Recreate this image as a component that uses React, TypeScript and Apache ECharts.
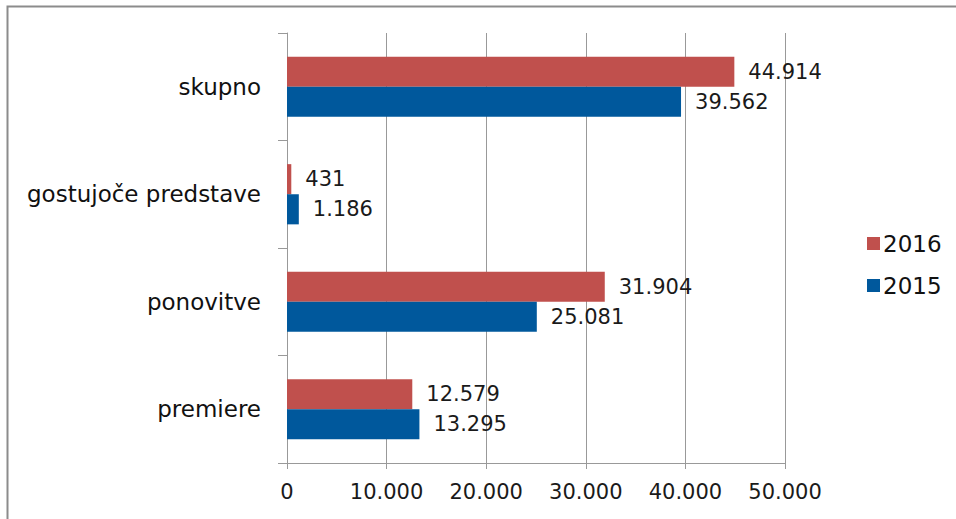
import React, { useEffect, useRef } from "react";
import * as echarts from "echarts";

const categories = ["premiere", "ponovitve", "gostujoče predstave", "skupno"];
const values2016 = [12579, 31904, 431, 44914];
const values2015 = [13295, 25081, 1186, 39562];
const seriesNames = ["2016", "2015"];
const xTicks = { min: 0, max: 50000, interval: 10000 };

const FONT = "DejaVu Sans";
const fmt = (v: number) => {
  const s = Math.round(v).toString();
  return s.replace(/\B(?=(\d{3})+(?!\d))/g, ".");
};

export default function App() {
  const ref = useRef<HTMLDivElement>(null);
  useEffect(() => {
    document.body.style.margin = "0";
    if (!ref.current) return;
    const chart = echarts.init(ref.current, undefined, { renderer: "svg" });
    const labelStyle = {
      show: true,
      position: "right" as const,
      distance: 14,
      fontFamily: FONT,
      fontSize: 21,
      color: "#1a1a1a",
      formatter: (p: any) => fmt(p.value),
    };
    chart.setOption({
      animation: false,
      backgroundColor: "#ffffff",
      textStyle: { fontFamily: FONT },
      grid: { left: 287, right: 171, top: 33, bottom: 56, containLabel: false },
      legend: {
        orient: "vertical",
        left: 862,
        top: 227,
        itemWidth: 13,
        itemHeight: 13,
        itemGap: 19,
        icon: "rect",
        data: seriesNames,
        textStyle: { fontFamily: FONT, fontSize: 23, color: "#111111", padding: [0, 0, 0, -2] },
      },
      xAxis: {
        type: "value",
        min: xTicks.min,
        max: xTicks.max,
        interval: xTicks.interval,
        axisLine: { show: true, lineStyle: { color: "#999999", width: 1 } },
        axisTick: { show: true, length: 6, lineStyle: { color: "#999999" } },
        splitLine: { show: true, lineStyle: { color: "#999999", width: 1 } },
        axisLabel: {
          fontFamily: FONT,
          fontSize: 21,
          color: "#1a1a1a",
          margin: 18,
          formatter: (v: number) => fmt(v),
        },
      },
      yAxis: {
        type: "category",
        data: categories,
        axisLine: { show: true, lineStyle: { color: "#999999", width: 1 } },
        axisTick: { show: true, length: 9, lineStyle: { color: "#999999" } },
        axisLabel: {
          fontFamily: FONT,
          fontSize: 23,
          color: "#111111",
          margin: 26,
        },
      },
      series: [
        {
          name: seriesNames[0],
          type: "bar",
          data: values2016,
          itemStyle: { color: "#C0504D" },
          barGap: "0%",
          barCategoryGap: "44%",
          label: labelStyle,
        },
        {
          name: seriesNames[1],
          type: "bar",
          data: values2015,
          itemStyle: { color: "#00589C" },
          barGap: "0%",
          barCategoryGap: "44%",
          label: labelStyle,
        },
      ],
      graphic: [
        {
          type: "polyline",
          shape: { points: [[7.5, 519], [7.5, 6.5], [956, 6.5]] },
          style: { stroke: "#8c8c8c", lineWidth: 2, fill: "none" },
          silent: true,
        },
      ],
    });
    return () => chart.dispose();
  }, []);
  return <div ref={ref} style={{ width: 956, height: 519 }} />;
}
